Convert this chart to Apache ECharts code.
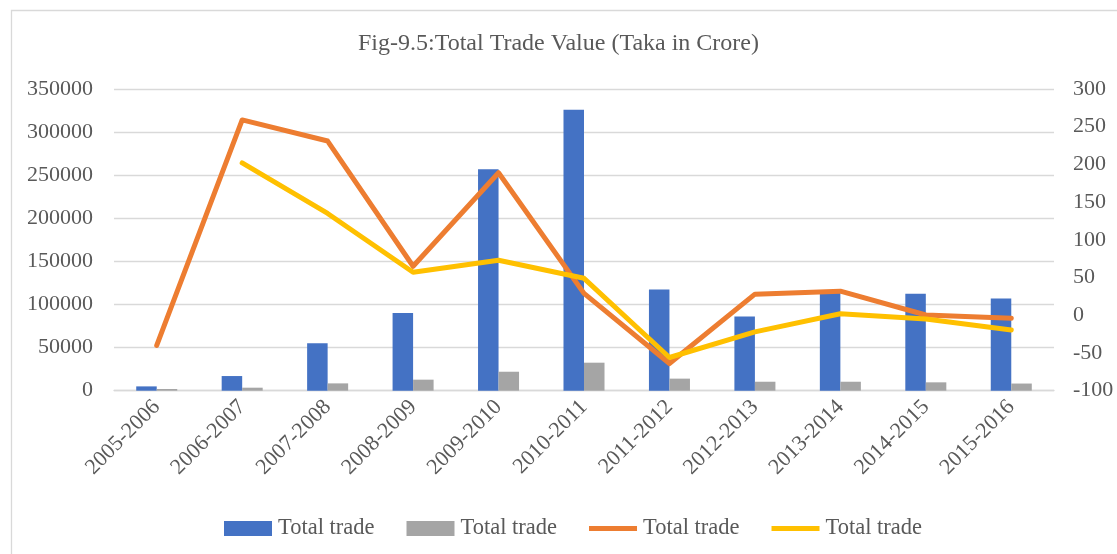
<!DOCTYPE html>
<html>
<head>
<meta charset="utf-8">
<script src="https://cdn.jsdelivr.net/npm/echarts@6/dist/echarts.min.js"></script>
<style>
html,body{margin:0;padding:0;background:#fff;}
#chart{width:1117px;height:554px;}
</style>
</head>
<body>
<div id="chart"></div>
<script>
const categories = ['2005-2006','2006-2007','2007-2008','2008-2009','2009-2010','2010-2011','2011-2012','2012-2013','2013-2014','2014-2015','2015-2016'];
const tradeBlue = [5000, 17000, 55000, 90000, 257000, 326000, 117500, 86000, 115000, 112500, 107000];
const tradeGray = [2000, 3500, 8500, 12800, 22000, 32500, 14000, 10400, 10400, 9700, 8300];
const growthOrange = [-40, 259, 231, 65, 189, 29, -64, 28, 32, 0.4, -4];
const growthYellow = [null, 202, 135, 57, 73, 49, -56, -22, 2, -5, -19.5];
const seriesNames = ['Total trade', 'Total trade ', 'Total trade  ', 'Total trade   '];
const titleText = 'Fig-9.5:Total Trade Value (Taka in Crore)';

const FONT = "'Liberation Serif', 'Times New Roman', serif";
const TXT = '#595959';
const GRID = '#D9D9D9';

const chart = echarts.init(document.getElementById('chart'), null, {renderer: 'canvas'});
const lineIcon = 'path://M0,0 L48,0 L48,5 L0,5 Z';

chart.setOption({
  backgroundColor: '#fff',
  animation: false,
  graphic: [{
    type: 'rect',
    shape: {x: 11.5, y: 10.5, width: 1200, height: 600},
    style: {fill: 'none', stroke: GRID, lineWidth: 1.3},
    silent: true
  }],
  title: {
    text: titleText,
    left: 'center',
    top: 32,
    padding: 0,
    textStyle: {fontFamily: FONT, fontSize: 24, fontWeight: 'normal', color: TXT}
  },
  legend: {
    left: 224,
    top: 517,
    padding: 0,
    itemWidth: 48,
    itemHeight: 15,
    itemGap: 32,
    textStyle: {fontFamily: FONT, fontSize: 22.5, color: TXT, padding: [0, 0, 0, 1]},
    formatter: function (n) { return n.trim(); },
    data: [
      {name: seriesNames[0], icon: 'rect'},
      {name: seriesNames[1], icon: 'rect'},
      {name: seriesNames[2], icon: lineIcon},
      {name: seriesNames[3], icon: lineIcon}
    ]
  },
  grid: {left: 114, right: 63, top: 89, bottom: 163.3, containLabel: false},
  xAxis: {
    type: 'category',
    data: categories,
    axisLine: {show: true, lineStyle: {color: GRID, width: 1.3}},
    axisTick: {show: false},
    axisLabel: {rotate: 45, margin: 13, fontFamily: FONT, fontSize: 22, color: TXT, interval: 0}
  },
  yAxis: [{
    type: 'value',
    min: 0, max: 350000, interval: 50000,
    axisLine: {show: false},
    axisTick: {show: false},
    splitLine: {show: true, lineStyle: {color: GRID, width: 1.3}},
    axisLabel: {margin: 21, fontFamily: FONT, fontSize: 22, color: TXT, formatter: function (v) { return String(v); }}
  }, {
    type: 'value',
    min: -100, max: 300, interval: 50,
    axisLine: {show: false},
    axisTick: {show: false},
    splitLine: {show: false},
    axisLabel: {margin: 19, fontFamily: FONT, fontSize: 22, color: TXT, formatter: function (v) { return String(v); }}
  }],
  series: [{
    name: seriesNames[0], type: 'bar', yAxisIndex: 0, data: tradeBlue,
    itemStyle: {color: '#4472C4'}, barGap: '0%', barCategoryGap: '52%'
  }, {
    name: seriesNames[1], type: 'bar', yAxisIndex: 0, data: tradeGray,
    itemStyle: {color: '#A5A5A5'}, barGap: '0%', barCategoryGap: '52%'
  }, {
    name: seriesNames[2], type: 'line', yAxisIndex: 1, data: growthOrange,
    symbol: 'none', lineStyle: {color: '#ED7D31', width: 5, cap: 'round', join: 'round'},
    itemStyle: {color: '#ED7D31'}, z: 5
  }, {
    name: seriesNames[3], type: 'line', yAxisIndex: 1, data: growthYellow,
    symbol: 'none', connectNulls: false, lineStyle: {color: '#FFC000', width: 5, cap: 'round', join: 'round'},
    itemStyle: {color: '#FFC000'}, z: 6
  }]
});
</script>
</body>
</html>
